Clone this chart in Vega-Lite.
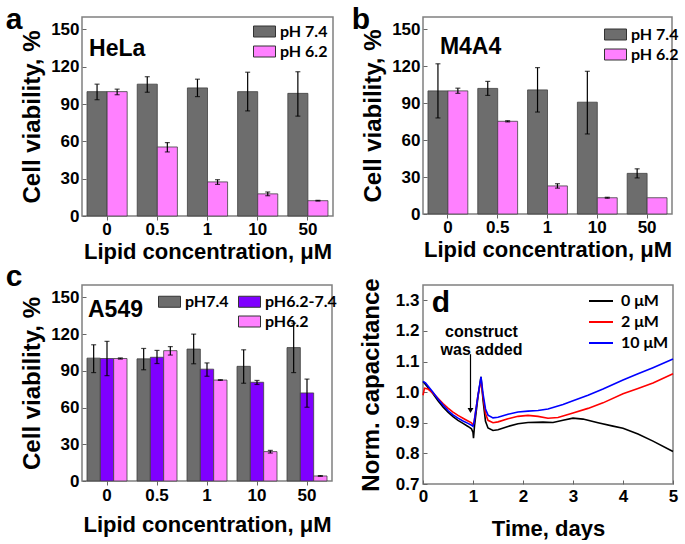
{
  "$schema": "https://vega.github.io/schema/vega-lite/v6.json",
  "background": "white",
  "padding": {"left": 4, "top": 4, "right": 0, "bottom": 0},
  "config": {
    "font": "Liberation Sans",
    "view": {"stroke": "#808080", "strokeWidth": 1.5},
    "axis": {"labelFont": "Liberation Sans", "labelFontWeight": "bold", "labelFontSize": 17, "labelColor": "black", "titleFont": "Liberation Sans", "titleFontWeight": "bold", "titleColor": "black", "tickColor": "#666666", "grid": false, "domain": false, "labelOverlap": false, "labelFlush": false, "labelBound": false},
    "legend": {"title": null, "labelFont": "Lato", "labelFontWeight": "bold", "labelFontSize": 16, "labelColor": "black", "rowPadding": 0, "symbolStrokeColor": "#333333", "symbolStrokeWidth": 1, "labelOffset": 4, "padding": 0},
    "title": {"font": "Liberation Sans", "fontSize": 30, "fontWeight": "bold", "color": "black", "anchor": "start", "frame": "bounds", "offset": 0, "baseline": "alphabetic"}
  },
  "datasets": {
    "a": [
      {"conc": "0", "ph": "pH 7.4", "v": 100, "lo": 93.5, "hi": 106},
      {"conc": "0", "ph": "pH 6.2", "v": 100, "lo": 97.5, "hi": 102},
      {"conc": "0.5", "ph": "pH 7.4", "v": 106, "lo": 99.5, "hi": 112},
      {"conc": "0.5", "ph": "pH 6.2", "v": 55.5, "lo": 51.5, "hi": 59},
      {"conc": "1", "ph": "pH 7.4", "v": 103, "lo": 96, "hi": 110},
      {"conc": "1", "ph": "pH 6.2", "v": 27.4, "lo": 25.4, "hi": 29.2},
      {"conc": "10", "ph": "pH 7.4", "v": 100, "lo": 84.5, "hi": 115.6},
      {"conc": "10", "ph": "pH 6.2", "v": 17.8, "lo": 16.3, "hi": 19.3},
      {"conc": "50", "ph": "pH 7.4", "v": 98.6, "lo": 80.3, "hi": 116},
      {"conc": "50", "ph": "pH 6.2", "v": 12.3, "lo": 12, "hi": 12.6}
    ],
    "b": [
      {"conc": "0", "ph": "pH 7.4", "v": 100, "lo": 78, "hi": 122},
      {"conc": "0", "ph": "pH 6.2", "v": 100, "lo": 98, "hi": 102.2},
      {"conc": "0.5", "ph": "pH 7.4", "v": 102, "lo": 96.3, "hi": 107.7},
      {"conc": "0.5", "ph": "pH 6.2", "v": 75.3, "lo": 74.8, "hi": 75.8},
      {"conc": "1", "ph": "pH 7.4", "v": 100.8, "lo": 82.8, "hi": 118.9},
      {"conc": "1", "ph": "pH 6.2", "v": 22.8, "lo": 21, "hi": 24.6},
      {"conc": "10", "ph": "pH 7.4", "v": 90.8, "lo": 65, "hi": 115.9},
      {"conc": "10", "ph": "pH 6.2", "v": 13.2, "lo": 12.8, "hi": 13.6},
      {"conc": "50", "ph": "pH 7.4", "v": 33, "lo": 29.3, "hi": 36.7},
      {"conc": "50", "ph": "pH 6.2", "v": 13.2, "lo": null, "hi": null}
    ],
    "c": [
      {"conc": "0", "ph": "pH7.4", "v": 100.3, "lo": 88.5, "hi": 111.2},
      {"conc": "0", "ph": "pH6.2-7.4", "v": 100, "lo": 86, "hi": 114},
      {"conc": "0", "ph": "pH6.2", "v": 100, "lo": 99.5, "hi": 100.5},
      {"conc": "0.5", "ph": "pH7.4", "v": 99.7, "lo": 90.8, "hi": 108.2},
      {"conc": "0.5", "ph": "pH6.2-7.4", "v": 101, "lo": 95.9, "hi": 106.6},
      {"conc": "0.5", "ph": "pH6.2", "v": 106.4, "lo": 102.8, "hi": 109.7},
      {"conc": "1", "ph": "pH7.4", "v": 107.7, "lo": 95.7, "hi": 119.9},
      {"conc": "1", "ph": "pH6.2-7.4", "v": 91.3, "lo": 85.5, "hi": 96.4},
      {"conc": "1", "ph": "pH6.2", "v": 82.4, "lo": 82.1, "hi": 82.7},
      {"conc": "10", "ph": "pH7.4", "v": 93.6, "lo": 79.8, "hi": 107.1},
      {"conc": "10", "ph": "pH6.2-7.4", "v": 80.6, "lo": 78.8, "hi": 82.1},
      {"conc": "10", "ph": "pH6.2", "v": 24, "lo": 22.8, "hi": 25},
      {"conc": "50", "ph": "pH7.4", "v": 108.9, "lo": 88.5, "hi": 128.8},
      {"conc": "50", "ph": "pH6.2-7.4", "v": 71.9, "lo": 60.2, "hi": 83.2},
      {"conc": "50", "ph": "pH6.2", "v": 4.1, "lo": 3.8, "hi": 4.4}
    ],
    "d": [
      {"s": "0 μM", "t": 0, "v": 1.035}, {"s": "0 μM", "t": 0.05, "v": 1.025}, {"s": "0 μM", "t": 0.1, "v": 1.015}, {"s": "0 μM", "t": 0.2, "v": 0.995}, {"s": "0 μM", "t": 0.3, "v": 0.972}, {"s": "0 μM", "t": 0.4, "v": 0.952}, {"s": "0 μM", "t": 0.5, "v": 0.935}, {"s": "0 μM", "t": 0.6, "v": 0.92}, {"s": "0 μM", "t": 0.7, "v": 0.908}, {"s": "0 μM", "t": 0.8, "v": 0.898}, {"s": "0 μM", "t": 0.9, "v": 0.888}, {"s": "0 μM", "t": 0.97, "v": 0.88}, {"s": "0 μM", "t": 1.0, "v": 0.868}, {"s": "0 μM", "t": 1.01, "v": 0.85}, {"s": "0 μM", "t": 1.03, "v": 0.89}, {"s": "0 μM", "t": 1.1, "v": 0.985}, {"s": "0 μM", "t": 1.16, "v": 1.05}, {"s": "0 μM", "t": 1.2, "v": 0.975}, {"s": "0 μM", "t": 1.25, "v": 0.905}, {"s": "0 μM", "t": 1.3, "v": 0.883}, {"s": "0 μM", "t": 1.4, "v": 0.875}, {"s": "0 μM", "t": 1.5, "v": 0.877}, {"s": "0 μM", "t": 1.7, "v": 0.888}, {"s": "0 μM", "t": 1.9, "v": 0.897}, {"s": "0 μM", "t": 2.1, "v": 0.901}, {"s": "0 μM", "t": 2.4, "v": 0.902}, {"s": "0 μM", "t": 2.6, "v": 0.901}, {"s": "0 μM", "t": 2.8, "v": 0.908}, {"s": "0 μM", "t": 3.0, "v": 0.915}, {"s": "0 μM", "t": 3.2, "v": 0.912}, {"s": "0 μM", "t": 3.5, "v": 0.9}, {"s": "0 μM", "t": 3.8, "v": 0.889}, {"s": "0 μM", "t": 4.0, "v": 0.882}, {"s": "0 μM", "t": 4.3, "v": 0.863}, {"s": "0 μM", "t": 4.6, "v": 0.84}, {"s": "0 μM", "t": 5.0, "v": 0.806},
      {"s": "2 μM", "t": 0, "v": 0.99}, {"s": "2 μM", "t": 0.03, "v": 1.013}, {"s": "2 μM", "t": 0.1, "v": 1.01}, {"s": "2 μM", "t": 0.2, "v": 0.997}, {"s": "2 μM", "t": 0.3, "v": 0.98}, {"s": "2 μM", "t": 0.4, "v": 0.963}, {"s": "2 μM", "t": 0.5, "v": 0.948}, {"s": "2 μM", "t": 0.6, "v": 0.935}, {"s": "2 μM", "t": 0.7, "v": 0.924}, {"s": "2 μM", "t": 0.8, "v": 0.915}, {"s": "2 μM", "t": 0.9, "v": 0.906}, {"s": "2 μM", "t": 0.97, "v": 0.9}, {"s": "2 μM", "t": 1.0, "v": 0.893}, {"s": "2 μM", "t": 1.02, "v": 0.9}, {"s": "2 μM", "t": 1.1, "v": 0.99}, {"s": "2 μM", "t": 1.16, "v": 1.04}, {"s": "2 μM", "t": 1.2, "v": 0.985}, {"s": "2 μM", "t": 1.25, "v": 0.93}, {"s": "2 μM", "t": 1.3, "v": 0.908}, {"s": "2 μM", "t": 1.4, "v": 0.9}, {"s": "2 μM", "t": 1.5, "v": 0.903}, {"s": "2 μM", "t": 1.7, "v": 0.913}, {"s": "2 μM", "t": 1.9, "v": 0.921}, {"s": "2 μM", "t": 2.1, "v": 0.924}, {"s": "2 μM", "t": 2.3, "v": 0.921}, {"s": "2 μM", "t": 2.5, "v": 0.915}, {"s": "2 μM", "t": 2.7, "v": 0.917}, {"s": "2 μM", "t": 3.0, "v": 0.932}, {"s": "2 μM", "t": 3.3, "v": 0.947}, {"s": "2 μM", "t": 3.6, "v": 0.965}, {"s": "2 μM", "t": 4.0, "v": 0.995}, {"s": "2 μM", "t": 4.3, "v": 1.012}, {"s": "2 μM", "t": 4.6, "v": 1.03}, {"s": "2 μM", "t": 5.0, "v": 1.06},
      {"s": "10 μM", "t": 0, "v": 1.035}, {"s": "10 μM", "t": 0.05, "v": 1.03}, {"s": "10 μM", "t": 0.1, "v": 1.02}, {"s": "10 μM", "t": 0.2, "v": 1.0}, {"s": "10 μM", "t": 0.3, "v": 0.978}, {"s": "10 μM", "t": 0.4, "v": 0.958}, {"s": "10 μM", "t": 0.5, "v": 0.94}, {"s": "10 μM", "t": 0.6, "v": 0.926}, {"s": "10 μM", "t": 0.7, "v": 0.915}, {"s": "10 μM", "t": 0.8, "v": 0.906}, {"s": "10 μM", "t": 0.9, "v": 0.898}, {"s": "10 μM", "t": 0.97, "v": 0.892}, {"s": "10 μM", "t": 1.0, "v": 0.888}, {"s": "10 μM", "t": 1.02, "v": 0.9}, {"s": "10 μM", "t": 1.1, "v": 0.99}, {"s": "10 μM", "t": 1.16, "v": 1.05}, {"s": "10 μM", "t": 1.2, "v": 0.995}, {"s": "10 μM", "t": 1.25, "v": 0.945}, {"s": "10 μM", "t": 1.3, "v": 0.925}, {"s": "10 μM", "t": 1.4, "v": 0.916}, {"s": "10 μM", "t": 1.5, "v": 0.918}, {"s": "10 μM", "t": 1.7, "v": 0.928}, {"s": "10 μM", "t": 1.9, "v": 0.935}, {"s": "10 μM", "t": 2.1, "v": 0.938}, {"s": "10 μM", "t": 2.3, "v": 0.94}, {"s": "10 μM", "t": 2.5, "v": 0.945}, {"s": "10 μM", "t": 2.8, "v": 0.96}, {"s": "10 μM", "t": 3.0, "v": 0.972}, {"s": "10 μM", "t": 3.3, "v": 0.99}, {"s": "10 μM", "t": 3.6, "v": 1.01}, {"s": "10 μM", "t": 4.0, "v": 1.04}, {"s": "10 μM", "t": 4.3, "v": 1.06}, {"s": "10 μM", "t": 4.6, "v": 1.08}, {"s": "10 μM", "t": 5.0, "v": 1.108}
    ],
    "dnote": [
      {"t": 1.17, "v": 1.196, "label": "construct"},
      {"t": 1.17, "v": 1.137, "label": "was added"}
    ],
    "darrow": [
      {"t": 0.95, "v": 1.124, "v2": 0.94}
    ]
  },
  "bounds": "flush",
  "columns": 2,
  "spacing": {"row": 69, "column": 90},
  "resolve": {
    "scale": {"x": "independent", "y": "independent", "xOffset": "independent", "fill": "independent", "color": "independent"},
    "legend": {"fill": "independent", "color": "independent"}
  },
  "concat": [
    {
      "width": 251, "height": 199,
      "title": {"text": "a", "dx": -15, "dy": 22},
      "data": {"name": "a"},
      "layer": [
        {
          "mark": {"type": "bar", "stroke": "#404040", "strokeWidth": 0.8},
          "encoding": {
            "x": {"field": "conc", "type": "nominal", "scale": {"domain": ["0", "0.5", "1", "10", "50"], "paddingInner": 0.2, "paddingOuter": 0.1}, "axis": {"title": "Lipid concentration, μM", "labelAngle": 0, "titleFontSize": 22, "titlePadding": 4, "tickSize": 4, "labelPadding": 1}},
            "xOffset": {"field": "ph", "type": "nominal", "scale": {"domain": ["pH 7.4", "pH 6.2"]}},
            "y": {"field": "v", "type": "quantitative", "scale": {"domain": [0, 150]}, "axis": {"values": [0, 30, 60, 90, 120, 150], "labelOverlap": false, "tickCount": 6, "title": "Cell viability, %", "titleFontSize": 24, "titlePadding": 6, "tickSize": -4, "labelPadding": 7}},
            "fill": {"field": "ph", "type": "nominal", "scale": {"domain": ["pH 7.4", "pH 6.2"], "range": ["#6d6d6d", "#ff80ff"]}, "legend": {"orient": "none", "legendX": 171, "legendY": 3, "symbolType": "M-1,-0.5H1V0.5H-1Z", "symbolSize": 484}}
          }
        },
        {
          "mark": {"type": "rule", "color": "black", "strokeWidth": 1.2},
          "encoding": {
            "x": {"field": "conc", "type": "nominal"},
            "xOffset": {"field": "ph", "type": "nominal"},
            "y": {"field": "lo", "type": "quantitative"},
            "y2": {"field": "hi"}
          }
        },
        {
          "mark": {"type": "tick", "color": "black", "thickness": 1.2, "size": 5},
          "encoding": {
            "x": {"field": "conc", "type": "nominal"},
            "xOffset": {"field": "ph", "type": "nominal"},
            "y": {"field": "lo", "type": "quantitative"}
          }
        },
        {
          "mark": {"type": "tick", "color": "black", "thickness": 1.2, "size": 5},
          "encoding": {
            "x": {"field": "conc", "type": "nominal"},
            "xOffset": {"field": "ph", "type": "nominal"},
            "y": {"field": "hi", "type": "quantitative"}
          }
        },
        {
          "data": {"values": [{"label": "HeLa"}]},
          "mark": {"type": "text", "align": "left", "baseline": "middle", "font": "Liberation Sans", "fontWeight": "bold", "fontSize": 23, "dx": -18},
          "encoding": {
            "x": {"datum": "0", "type": "nominal"},
            "y": {"datum": 134.5, "type": "quantitative"},
            "text": {"field": "label"}
          }
        }
      ]
    },
    {
      "width": 249, "height": 197,
      "title": {"text": "b", "dx": -10, "dy": 22},
      "data": {"name": "b"},
      "layer": [
        {
          "mark": {"type": "bar", "stroke": "#404040", "strokeWidth": 0.8},
          "encoding": {
            "x": {"field": "conc", "type": "nominal", "scale": {"domain": ["0", "0.5", "1", "10", "50"], "paddingInner": 0.2, "paddingOuter": 0.1}, "axis": {"title": "Lipid concentration, μM", "labelAngle": 0, "titleFontSize": 22, "titlePadding": 4, "tickSize": 4, "labelPadding": 1}},
            "xOffset": {"field": "ph", "type": "nominal", "scale": {"domain": ["pH 7.4", "pH 6.2"]}},
            "y": {"field": "v", "type": "quantitative", "scale": {"domain": [0, 150]}, "axis": {"values": [0, 30, 60, 90, 120, 150], "labelOverlap": false, "tickCount": 6, "title": "Cell viability, %", "titleFontSize": 24, "titlePadding": 6, "tickSize": -4, "labelPadding": 7}},
            "fill": {"field": "ph", "type": "nominal", "scale": {"domain": ["pH 7.4", "pH 6.2"], "range": ["#6d6d6d", "#ff80ff"]}, "legend": {"orient": "none", "legendX": 181, "legendY": 6, "symbolType": "M-1,-0.5H1V0.5H-1Z", "symbolSize": 484}}
          }
        },
        {
          "mark": {"type": "rule", "color": "black", "strokeWidth": 1.2},
          "encoding": {
            "x": {"field": "conc", "type": "nominal"},
            "xOffset": {"field": "ph", "type": "nominal"},
            "y": {"field": "lo", "type": "quantitative"},
            "y2": {"field": "hi"}
          }
        },
        {
          "mark": {"type": "tick", "color": "black", "thickness": 1.2, "size": 5},
          "encoding": {
            "x": {"field": "conc", "type": "nominal"},
            "xOffset": {"field": "ph", "type": "nominal"},
            "y": {"field": "lo", "type": "quantitative"}
          }
        },
        {
          "mark": {"type": "tick", "color": "black", "thickness": 1.2, "size": 5},
          "encoding": {
            "x": {"field": "conc", "type": "nominal"},
            "xOffset": {"field": "ph", "type": "nominal"},
            "y": {"field": "hi", "type": "quantitative"}
          }
        },
        {
          "data": {"values": [{"label": "M4A4"}]},
          "mark": {"type": "text", "align": "left", "baseline": "middle", "font": "Liberation Sans", "fontWeight": "bold", "fontSize": 23, "dx": -8},
          "encoding": {
            "x": {"datum": "0", "type": "nominal"},
            "y": {"datum": 136, "type": "quantitative"},
            "text": {"field": "label"}
          }
        }
      ]
    },
    {
      "width": 250, "height": 196,
      "title": {"text": "c", "dx": -15, "dy": 11},
      "data": {"name": "c"},
      "layer": [
        {
          "mark": {"type": "bar", "stroke": "#404040", "strokeWidth": 0.8},
          "encoding": {
            "x": {"field": "conc", "type": "nominal", "scale": {"domain": ["0", "0.5", "1", "10", "50"], "paddingInner": 0.2, "paddingOuter": 0.1}, "axis": {"title": "Lipid concentration, μM", "labelAngle": 0, "titleFontSize": 22, "titlePadding": 11, "tickSize": 4, "labelPadding": 2}},
            "xOffset": {"field": "ph", "type": "nominal", "scale": {"domain": ["pH7.4", "pH6.2-7.4", "pH6.2"]}},
            "y": {"field": "v", "type": "quantitative", "scale": {"domain": [0, 150]}, "axis": {"values": [0, 30, 60, 90, 120, 150], "labelOverlap": false, "tickCount": 6, "title": "Cell viability, %", "titleFontSize": 24, "titlePadding": 6, "tickSize": -4, "labelPadding": 7}},
            "fill": {"field": "ph", "type": "nominal", "scale": {"domain": ["pH7.4", " ", "pH6.2-7.4", "pH6.2"], "range": ["#6d6d6d", "transparent", "#7f00ff", "#ff80ff"]}, "legend": {"orient": "none", "legendX": 76, "legendY": 5, "columns": 2, "columnPadding": 7, "symbolType": "M-1,-0.5H1V0.5H-1Z", "symbolSize": 484, "encode": {"symbols": {"update": {"opacity": {"signal": "datum.value === ' ' ? 0 : 1"}}}}}}
          }
        },
        {
          "mark": {"type": "rule", "color": "black", "strokeWidth": 1.2},
          "encoding": {
            "x": {"field": "conc", "type": "nominal"},
            "xOffset": {"field": "ph", "type": "nominal"},
            "y": {"field": "lo", "type": "quantitative"},
            "y2": {"field": "hi"}
          }
        },
        {
          "mark": {"type": "tick", "color": "black", "thickness": 1.2, "size": 5},
          "encoding": {
            "x": {"field": "conc", "type": "nominal"},
            "xOffset": {"field": "ph", "type": "nominal"},
            "y": {"field": "lo", "type": "quantitative"}
          }
        },
        {
          "mark": {"type": "tick", "color": "black", "thickness": 1.2, "size": 5},
          "encoding": {
            "x": {"field": "conc", "type": "nominal"},
            "xOffset": {"field": "ph", "type": "nominal"},
            "y": {"field": "hi", "type": "quantitative"}
          }
        },
        {
          "data": {"values": [{"label": "A549"}]},
          "mark": {"type": "text", "align": "left", "baseline": "middle", "font": "Liberation Sans", "fontWeight": "bold", "fontSize": 23, "dx": -19},
          "encoding": {
            "x": {"datum": "0", "type": "nominal"},
            "y": {"datum": 139.5, "type": "quantitative"},
            "text": {"field": "label"}
          }
        }
      ]
    },
    {
      "width": 250, "height": 199,
      "layer": [
        {
          "data": {"name": "d"},
          "mark": {"type": "line", "strokeWidth": 1.6},
          "encoding": {
            "x": {"field": "t", "type": "quantitative", "scale": {"domain": [0, 5]}, "axis": {"values": [0, 1, 2, 3, 4, 5], "tickCount": 6, "labelOverlap": false, "format": "d", "title": "Time, days", "titleFontSize": 22, "titlePadding": 14, "tickSize": -4, "labelPadding": 8}},
            "y": {"field": "v", "type": "quantitative", "scale": {"domain": [0.7, 1.35]}, "axis": {"values": [0.7, 0.8, 0.9, 1.0, 1.1, 1.2, 1.3], "tickCount": 7, "labelOverlap": false, "format": ".1f", "title": "Norm. capacitance", "titleFontSize": 24, "titlePadding": 12, "tickSize": -4, "labelPadding": 8}},
            "color": {"field": "s", "type": "nominal", "scale": {"domain": ["0 μM", "2 μM", "10 μM"], "range": ["#000000", "#ff0000", "#0000ff"]}, "legend": {"orient": "none", "legendX": 165, "legendY": 3, "symbolType": "stroke", "symbolSize": 576, "symbolStrokeWidth": 2, "labelFontSize": 16, "labelOffset": 7}}
          }
        },
        {
          "data": {"name": "darrow"},
          "mark": {"type": "rule", "color": "black", "strokeWidth": 1.2},
          "encoding": {
            "x": {"field": "t", "type": "quantitative"},
            "y": {"field": "v", "type": "quantitative"},
            "y2": {"field": "v2"}
          }
        },
        {
          "data": {"name": "darrow"},
          "mark": {"type": "point", "shape": "triangle-down", "filled": true, "color": "black", "size": 35, "opacity": 1},
          "encoding": {
            "x": {"field": "t", "type": "quantitative"},
            "y": {"field": "v2", "type": "quantitative"}
          }
        },
        {
          "data": {"name": "dnote"},
          "mark": {"type": "text", "align": "center", "baseline": "middle", "font": "Liberation Sans", "fontWeight": "bold", "fontSize": 16},
          "encoding": {
            "x": {"field": "t", "type": "quantitative"},
            "y": {"field": "v", "type": "quantitative"},
            "text": {"field": "label"}
          }
        },
        {
          "data": {"values": [{"t": 0.36, "v": 1.29, "label": "d"}]},
          "mark": {"type": "text", "align": "center", "baseline": "middle", "font": "Liberation Sans", "fontWeight": "bold", "fontSize": 30},
          "encoding": {
            "x": {"field": "t", "type": "quantitative"},
            "y": {"field": "v", "type": "quantitative"},
            "text": {"field": "label"}
          }
        }
      ]
    }
  ]
}
